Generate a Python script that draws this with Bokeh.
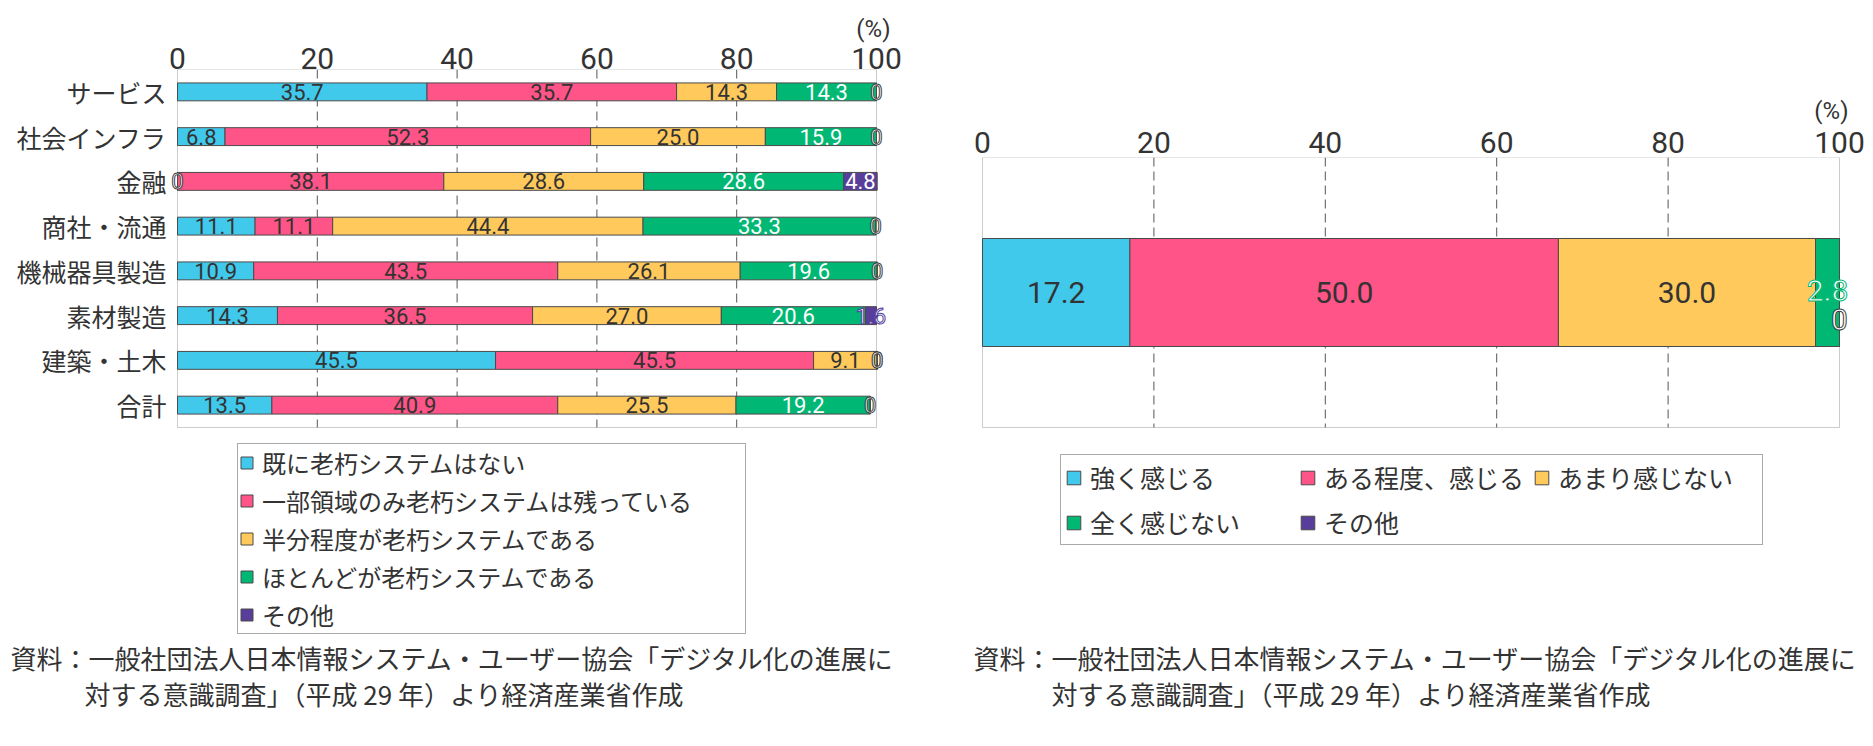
from bokeh.plotting import figure
from bokeh.models import Range1d, Legend, LegendItem, Title, Label, ColumnDataSource, FixedTicker, BoxAnnotation
from bokeh.layouts import row
from bokeh.embed import file_html
from bokeh.resources import INLINE
from bokeh.core.properties import value

FONT = "Noto Sans CJK JP"
NUMFONT = "Roboto"
TXT = "#333333"

# ---------------- data ----------------
categories = ["サービス", "社会インフラ", "金融", "商社・流通", "機械器具製造", "素材製造", "建築・土木", "合計"]
left_series = ["既に老朽システムはない", "一部領域のみ老朽システムは残っている",
               "半分程度が老朽システムである", "ほとんどが老朽システムである", "その他"]
left_none = [35.7, 6.8, 0, 11.1, 10.9, 14.3, 45.5, 13.5]
left_partial = [35.7, 52.3, 38.1, 11.1, 43.5, 36.5, 45.5, 40.9]
left_half = [14.3, 25.0, 28.6, 44.4, 26.1, 27.0, 9.1, 25.5]
left_most = [14.3, 15.9, 28.6, 33.3, 19.6, 20.6, 0, 19.2]
left_other = [0, 0, 4.8, 0, 0, 1.6, 0, 0]

right_category = ["全体"]
right_series = ["強く感じる", "ある程度、感じる", "あまり感じない", "全く感じない", "その他"]
right_strong = [17.2]
right_some = [50.0]
right_little = [30.0]
right_none = [2.8]
right_other = [0]

ticks = [0, 20, 40, 60, 80, 100]
unit_label = "(%)"
colors = ["#41C9EC", "#FF5487", "#FFC95B", "#00B874", "#583E9A"]
text_on = [TXT, TXT, TXT, "white", "white"]

caption1 = "資料：一般社団法人日本情報システム・ユーザー協会「デジタル化の進展に"
caption2 = "対する意識調査」（平成 29 年）より経済産業省作成"


def make_fig(width, top_border, frame_h, x0_px, px_per_unit, slot_px, tick_standoff):
    # frame covers the whole figure width and everything below the axis
    x_start = -x0_px / px_per_unit
    x_end = x_start + width / px_per_unit
    y_top = -0.5
    y_bottom = y_top + frame_h / slot_px
    p = figure(x_range=Range1d(x_start, x_end), y_range=Range1d(y_bottom, y_top),
               frame_width=width, frame_height=frame_h,
               min_border_left=0, min_border_right=0, min_border_top=top_border, min_border_bottom=0,
               x_axis_location="above", output_backend="svg", toolbar_location=None)
    try:
        p.frame_align = False
    except Exception:
        pass
    p.xaxis.ticker = FixedTicker(ticks=ticks)
    p.xaxis.major_label_text_font = NUMFONT
    p.xaxis.major_label_text_font_size = "30px"
    p.xaxis.major_label_text_color = TXT
    p.xaxis.axis_line_color = None
    p.xaxis.major_tick_line_color = None
    p.xaxis.minor_tick_line_color = None
    p.xaxis.major_tick_out = 0
    p.xaxis.major_label_standoff = tick_standoff
    p.yaxis.visible = False
    p.xgrid.grid_line_color = None
    p.ygrid.grid_line_color = None
    p.outline_line_color = None
    p.background_fill_color = "white"
    return p


def draw_frame(p, n):
    gt = ticks[1:-1]
    p.segment(x0=gt, x1=gt, y0=[-0.5] * len(gt), y1=[n - 0.5] * len(gt),
              line_color="#555555", line_width=1, line_dash="9 5")
    p.add_layout(BoxAnnotation(left=ticks[0], right=ticks[-1], top=-0.5, bottom=n - 0.5,
                               fill_alpha=0, line_color="#555555", line_width=1, level="underlay"))


def draw_stack(p, n, series_values, font_size, zero_dy=0, small_dy=0):
    ypos = list(range(n))
    cum = [0.0] * n
    renderers = []
    groups = {}
    for i, vals in enumerate(series_values):
        lefts = cum[:]
        rights = [cum[k] + vals[k] for k in range(n)]
        src = ColumnDataSource(dict(y=ypos, left=lefts, right=rights))
        r = p.hbar(y="y", left="left", right="right", height=0.4, source=src,
                   fill_color=colors[i], line_color="#4a4a4a", line_width=1)
        renderers.append(r)
        for k in range(n):
            v = vals[k]
            mid = lefts[k] + v / 2
            if v == 0:
                key = ("zero", "white", "#404040")
                txt = "0"
            elif v < 3:
                key = ("small%d" % i, "white", colors[i])
                txt = "%.1f" % v
            else:
                key = ("norm%d" % i, text_on[i], None)
                txt = "%.1f" % v
            g = groups.setdefault(key, dict(x=[], y=[], t=[]))
            g["x"].append(mid)
            g["y"].append(ypos[k])
            g["t"].append(txt)
        cum = rights
    for (kind, tcol, ocol), g in groups.items():
        dy = zero_dy if kind == "zero" else (small_dy if kind.startswith("small") else 0)
        kw = {}
        if ocol is not None:
            kw["text_outline_color"] = ocol
        p.text(x=g["x"], y=g["y"], text=g["t"], text_color=tcol, text_font=value(NUMFONT),
               text_font_size=font_size, text_align="center", text_baseline="middle",
               y_offset=dy, **kw)
    return renderers


def add_unit(p, offset, standoff):
    p.add_layout(Title(text=unit_label, align="right", offset=offset, standoff=standoff,
                       text_font=NUMFONT, text_font_size="24px", text_font_style="normal",
                       text_color=TXT), "above")


def add_captions(p, x1, x2, y1, y2):
    for x, y, t in ((x1, y1, caption1), (x2, y2, caption2)):
        p.add_layout(Label(x=x, y=y, x_units="screen", y_units="screen", text=t,
                           text_font=FONT, text_font_size="26px", text_color=TXT,
                           text_align="left", text_baseline="middle"))


# ---------------- left chart ----------------
NL = len(categories)
p1 = make_fig(width=960, top_border=69, frame_h=677, x0_px=177, px_per_unit=6.99,
              slot_px=358 / NL, tick_standoff=1)
draw_frame(p1, NL)
rl = draw_stack(p1, NL, [left_none, left_partial, left_half, left_most, left_other], "22px")
p1.text(x=[ticks[0]] * NL, y=list(range(NL)), text=categories, x_offset=-11,
        text_font=value(FONT), text_font_size="25px", text_color=TXT,
        text_align="right", text_baseline="middle")
leg1 = Legend(items=[LegendItem(label=n, renderers=[r]) for n, r in zip(left_series, rl)],
              location=(237, 112), orientation="vertical",
              label_text_font=FONT, label_text_font_size="24px", label_text_color=TXT,
              glyph_width=15, glyph_height=15, label_standoff=8, spacing=3, padding=1,
              label_height=30, label_width=482, border_line_color="#555555", border_line_width=1,
              background_fill_color="white", background_fill_alpha=1.0)
p1.add_layout(leg1)
add_unit(p1, 70, 3)
add_captions(p1, 10, 84, 89, 53)

# ---------------- right chart ----------------
NR = len(right_category)
p2 = make_fig(width=913, top_border=157, frame_h=589, x0_px=22, px_per_unit=8.57,
              slot_px=270, tick_standoff=5)
draw_frame(p2, NR)
rr = draw_stack(p2, NR, [right_strong, right_some, right_little, right_none, right_other],
                "30px", zero_dy=27, small_dy=-2)
leg2 = Legend(items=[LegendItem(label=n, renderers=[r]) for n, r in zip(right_series, rr)],
              location=(100, 201), orientation="horizontal", ncols=3,
              label_text_font=FONT, label_text_font_size="25px", label_text_color=TXT,
              glyph_width=17, glyph_height=17, label_standoff=8, spacing=9, padding=4,
              label_height=30, label_width=200, border_line_color="#555555", border_line_width=1,
              background_fill_color="white", background_fill_alpha=1.0)
p2.add_layout(leg2)
add_unit(p2, 25, 8)
add_captions(p2, 13, 91, 89, 53)

layout = row(p1, p2)
open("out.html", "w").write(file_html(layout, INLINE))
